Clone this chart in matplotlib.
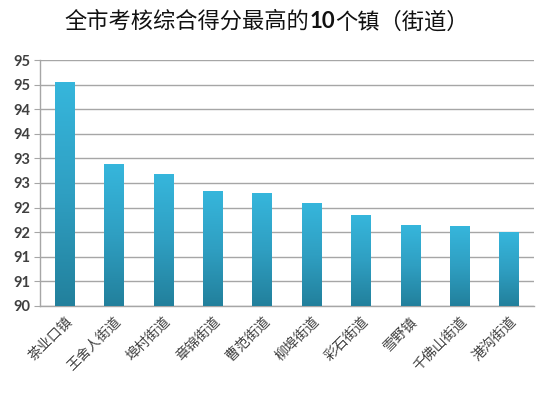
import numpy as np
import matplotlib
matplotlib.use("Agg")
import matplotlib.pyplot as plt
from matplotlib.colors import LinearSegmentedColormap
from matplotlib.offsetbox import TextArea, HPacker, AnchoredOffsetbox
from matplotlib.ticker import MultipleLocator, FuncFormatter

towns = ["茶业口镇", "王舍人街道", "埠村街道", "章锦街道", "曹范街道",
         "柳埠街道", "彩石街道", "雪野镇", "千佛山街道", "港沟街道"]
scores = [94.54, 92.87, 92.68, 92.32, 92.29, 92.09, 91.84, 91.63, 91.62, 91.49]

plt.rcParams["font.family"] = ["Noto Sans CJK SC", "DejaVu Sans"]

fig = plt.figure(figsize=(5.5, 3.94), dpi=100)
ax = fig.add_axes([0.0727, 0.2234, 0.8983, 0.6243])

x = np.arange(len(towns))
bars = ax.bar(x, np.array(scores) - 90, bottom=90, width=0.40,
              color="none", edgecolor="none", zorder=3)

# vertical gradient inside each bar, dark at the base
cmap = LinearSegmentedColormap.from_list("bar", ["#22809c", "#2f9fc2", "#36b6dc"])
grad = np.linspace(0, 1, 256).reshape(-1, 1)
for b in bars:
    x0, y0 = b.get_x(), b.get_y()
    ax.imshow(grad, extent=[x0, x0 + b.get_width(), y0, y0 + b.get_height()],
              origin="lower", aspect="auto", cmap=cmap, zorder=3,
              interpolation="nearest")

ax.set_xlim(-0.5, len(towns) - 0.5)
ax.set_ylim(90, 95)
ax.yaxis.set_major_locator(MultipleLocator(0.5))
ax.yaxis.set_major_formatter(FuncFormatter(lambda v, _: "%d" % np.floor(v + 0.5 + 1e-9)))
ax.grid(axis="y", color="#a6a6a6", lw=1.0, zorder=0)
ax.set_axisbelow(True)

for s in ("top", "right"):
    ax.spines[s].set_visible(False)
for s in ("left", "bottom"):
    ax.spines[s].set_color("#a6a6a6")
    ax.spines[s].set_linewidth(1.0)

ax.tick_params(axis="y", length=4, color="#a6a6a6", pad=3)
for lab in ax.get_yticklabels():
    lab.set_family("Lato")
    lab.set_weight("bold")
    lab.set_fontsize(10.5)
    lab.set_color("#404040")

ax.set_xticks(x)
ax.set_xticklabels(towns, rotation=45, ha="right", va="top",
                   rotation_mode="anchor", fontsize=10, color="#404040")
ax.tick_params(axis="x", length=0, pad=6)

# title with bold "10"
parts = [
    TextArea("全市考核综合得分最高的", textprops=dict(fontsize=16, color="#111111")),
    TextArea("10", textprops=dict(fontsize=16, color="#111111", weight="bold",
                                  family="Lato")),
    TextArea("个镇（街道）", textprops=dict(fontsize=16, color="#111111")),
]
pack = HPacker(children=parts, align="baseline", pad=0, sep=0)
title = AnchoredOffsetbox(loc="center", child=pack, frameon=False,
                          bbox_to_anchor=(0.485, 0.945),
                          bbox_transform=fig.transFigure, borderpad=0)
fig.add_artist(title)

fig.savefig("out.png", dpi=100)
